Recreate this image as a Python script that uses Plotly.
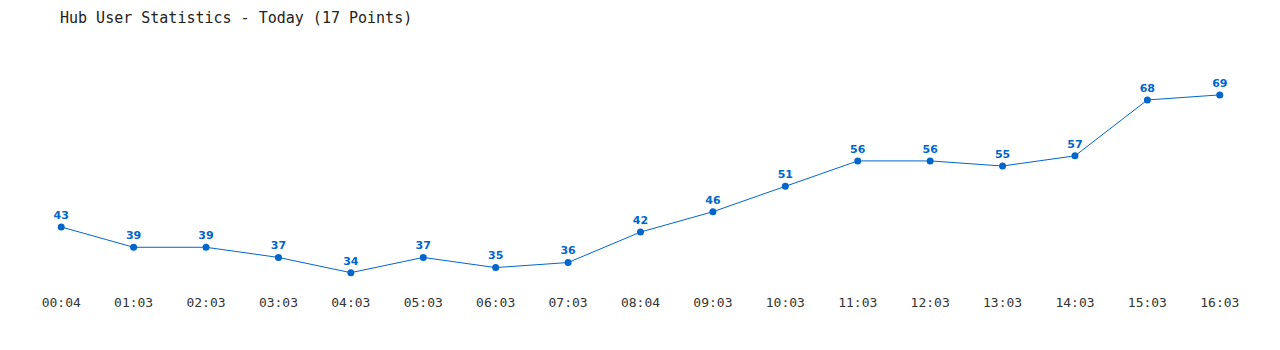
import plotly.graph_objects as go

times = ["00:04", "01:03", "02:03", "03:03", "04:03", "05:03", "06:03", "07:03", "08:04",
         "09:03", "10:03", "11:03", "12:03", "13:03", "14:03", "15:03", "16:03"]
users = [43, 39, 39, 37, 34, 37, 35, 36, 42, 46, 51, 56, 56, 55, 57, 68, 69]

idx = list(range(len(times)))

fig = go.Figure()
fig.add_trace(go.Scatter(
    x=idx, y=users, mode="lines+markers+text",
    line=dict(color="#0066cc", width=1),
    marker=dict(color="#0066cc", size=7),
    text=[str(v) for v in users], textposition="top center",
    textfont=dict(family="DejaVu Sans", size=11, color="#0066cc", weight="bold"),
    hoverinfo="skip", cliponaxis=False,
))
fig.update_layout(
    width=1280, height=350,
    margin=dict(l=25, r=24, t=39, b=57),
    paper_bgcolor="white", plot_bgcolor="white",
    showlegend=False,
    title=dict(text="Hub User Statistics - Today (17 Points)", x=60/1280, xanchor="left",
               y=1 - 18/350, yanchor="middle",
               font=dict(family="DejaVu Sans Mono", size=15, color="#222")),
    xaxis=dict(range=[-0.5, 16.5], tickmode="array", tickvals=idx, ticktext=times,
               showgrid=False, zeroline=False, showline=False, ticks="",
               tickfont=dict(family="DejaVu Sans Mono", size=13, color="#333")),
    yaxis=dict(range=[30, 80], showgrid=False, zeroline=False, showline=False,
               showticklabels=False, ticks=""),
)
fig.write_html("out.html")
